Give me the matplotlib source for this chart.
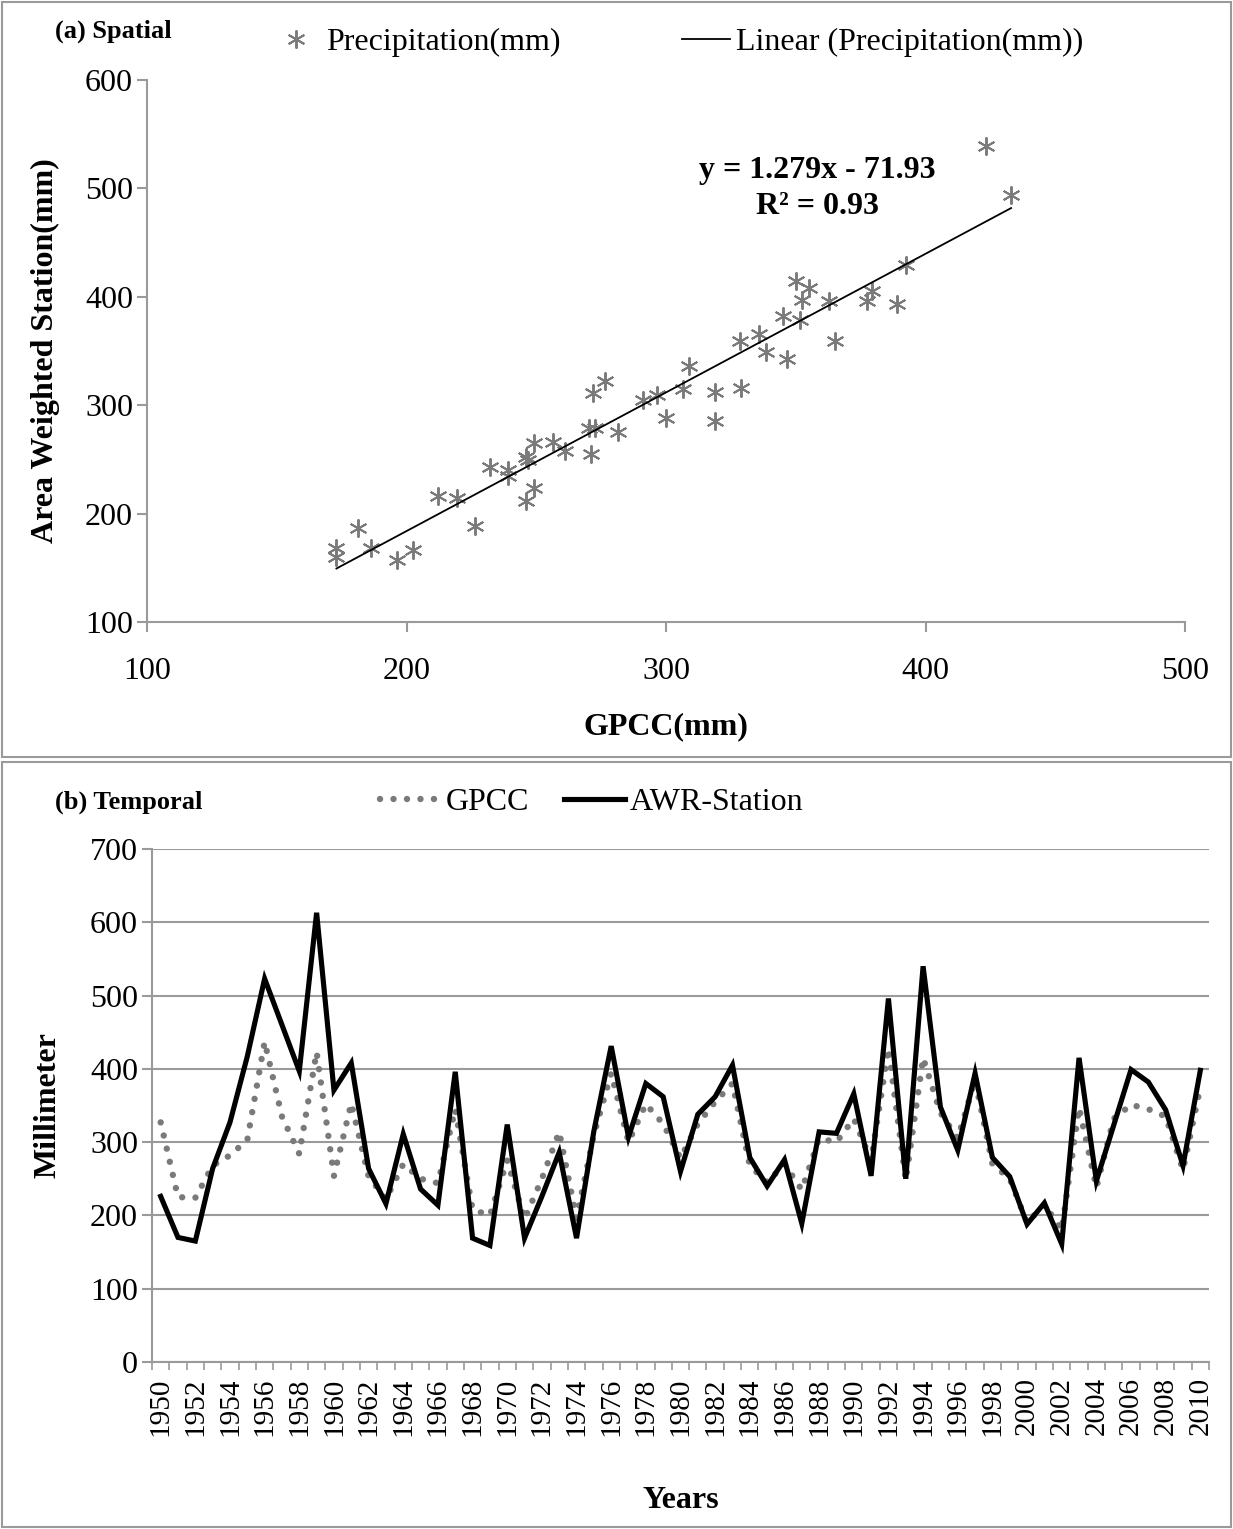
import matplotlib
matplotlib.use("Agg")
import matplotlib.pyplot as plt
import matplotlib.patches as patches
import numpy as np

W, H = 1233, 1529

# (a) spatial: GPCC vs area weighted station precipitation (mm)
gpcc_spatial = [173, 173, 181.5, 186.5, 196.5, 202.5, 212, 219.5, 226.5, 232,
                239, 239, 246, 247, 249, 249, 246, 256.5, 261, 271,
                270.5, 272.5, 272, 276.5, 281.5, 291, 296.5, 300, 306.5, 309,
                319, 319, 329, 328.5, 336, 338.5, 345, 346.5, 350, 355,
                352.5, 351.5, 363, 365, 377.5, 379.5, 389, 392.5, 423.5, 433]
station_spatial = [168, 160, 187, 168, 157, 166, 216, 214, 189, 243,
                   240, 235, 252, 249, 265, 224, 212, 266, 258, 255,
                   279, 279, 311, 322, 275, 305, 309, 288, 315, 336,
                   312, 285, 316, 359, 366, 349, 382, 343, 415, 408,
                   397, 379, 396, 359, 396, 405, 393, 429, 539, 494]
trend_slope = 1.279
trend_intercept = -71.93
r_squared = 0.93

# (b) temporal: annual series 1950-2010
years = list(range(1950, 2011))
gpcc_annual = [327, 225, 224, 268, 282, 303, 437, 335, 284, 423,
               254, 353, 253, 222, 270, 250, 244, 345, 208, 200,
               275, 195, 250, 314, 196, 310, 394, 300, 352, 325,
               278, 325, 355, 380, 268, 245, 270, 235, 305, 300,
               332, 275, 428, 248, 415, 340, 305, 385, 270, 250,
               190, 215, 180, 347, 238, 332, 351, 345, 335, 262,
               375]
awr_annual = [226, 170, 165, 264, 327, 417, 523, 460, 397, 613,
              371, 408, 264, 216, 311, 236, 214, 396, 169, 159,
              324, 169, 226, 286, 169, 315, 431, 307, 380, 362,
              260, 338, 362, 405, 279, 240, 276, 189, 314, 312,
              366, 254, 496, 250, 540, 348, 289, 394, 279, 253,
              188, 217, 161, 415, 247, 323, 399, 382, 344, 268,
              398]

GRAY = "#7a7a7a"
AXIS_GRAY = "#9a9a9a"

plt.rcParams["font.family"] = ["Liberation Serif", "DejaVu Serif"]


def box(left, top, right, bottom):
    return [left / W, 1 - bottom / H, (right - left) / W, (bottom - top) / H]


fig = plt.figure(figsize=(W / 100, H / 100), dpi=100)

# panel frames
for top, bottom in [(2, 757), (762, 1527)]:
    fig.add_artist(patches.Rectangle((2 / W, 1 - bottom / H), (W - 4) / W, (bottom - top) / H,
                                     transform=fig.transFigure, fill=False,
                                     edgecolor=AXIS_GRAY, lw=1.5))

# ---------- (a) Spatial ----------
ax1 = fig.add_axes(box(147, 80, 1185, 622))
ax1.plot(gpcc_spatial, station_spatial, linestyle="none", marker=(6, 2, 0),
         ms=13, mew=1.4, color=GRAY, label="Precipitation(mm)")
xfit = np.array([min(gpcc_spatial), max(gpcc_spatial)])
ax1.plot(xfit, trend_slope * xfit + trend_intercept, color="black", lw=1.3,
         label="Linear (Precipitation(mm))")
ax1.set_xlim(100, 500)
ax1.set_ylim(100, 600)
ax1.set_xticks(range(100, 501, 100))
ax1.set_yticks(range(100, 601, 100))
for s in ["top", "right"]:
    ax1.spines[s].set_visible(False)
for s in ["left", "bottom"]:
    ax1.spines[s].set_color(AXIS_GRAY)
    ax1.spines[s].set_linewidth(1.5)
ax1.tick_params(axis="both", direction="out", length=7, width=1.5, color=AXIS_GRAY,
                labelsize=23)
ax1.tick_params(axis="x", pad=18)
ax1.tick_params(axis="y", pad=3)
ax1.set_xlabel("GPCC(mm)", fontsize=23, fontweight="bold", labelpad=19)
ax1.set_ylabel("Area Weighted Station(mm)", fontsize=23, fontweight="bold", labelpad=18)
ax1.text(358.5, 500, f"y = {trend_slope}x - {abs(trend_intercept)}\nR\u00b2 = {r_squared}",
         ha="center", va="center", fontsize=23, fontweight="bold", linespacing=1.35)

fig.text(55 / W, 1 - 31 / H, "(a) Spatial", fontsize=19, fontweight="bold", va="center")
fig.legend(*ax1.get_legend_handles_labels(), loc="center left",
           bbox_to_anchor=(272 / W, 1 - 42 / H), ncol=2, frameon=False,
           fontsize=23, handlelength=1.5, handletextpad=0.2, columnspacing=3.8,
           borderpad=0, borderaxespad=0)

# ---------- (b) Temporal ----------
ax2 = fig.add_axes(box(152, 849, 1209, 1362))
x = np.arange(len(years))
ax2.plot(x, gpcc_annual, color=GRAY, lw=4.6, linestyle=(0, (0.01, 2.1)),
         dash_capstyle="round", label="GPCC")
ax2.plot(x, awr_annual, color="black", lw=3.7, solid_joinstyle="miter",
         label="AWR-Station")
ax2.set_xlim(-0.5, len(years) - 0.5)
ax2.set_ylim(0, 700)
ax2.set_yticks(range(0, 701, 100))
ax2.yaxis.grid(True, color=AXIS_GRAY, lw=1.5)
ax2.set_axisbelow(True)
ax2.set_xticks(x[::2])
ax2.set_xticklabels([str(y) for y in years[::2]], rotation=90)
ax2.set_xticks(np.arange(-0.5, len(years)), minor=True)
for s in ["top", "right"]:
    ax2.spines[s].set_visible(False)
for s in ["left", "bottom"]:
    ax2.spines[s].set_color(AXIS_GRAY)
    ax2.spines[s].set_linewidth(1.5)
ax2.tick_params(axis="x", which="major", length=0, pad=11, labelsize=21)
ax2.tick_params(axis="x", which="minor", direction="out", length=6, width=1.2,
                color=AXIS_GRAY)
ax2.tick_params(axis="y", direction="out", length=7, width=1.5, color=AXIS_GRAY,
                labelsize=23, pad=3)
ax2.set_xlabel("Years", fontsize=23, fontweight="bold", labelpad=36)
ax2.set_ylabel("Millimeter", fontsize=23, fontweight="bold", labelpad=20)

fig.text(55 / W, 1 - 802 / H, "(b) Temporal", fontsize=19, fontweight="bold", va="center")
fig.legend(*ax2.get_legend_handles_labels(), loc="center left",
           bbox_to_anchor=(380 / W, 1 - 802 / H), ncol=2, frameon=False,
           fontsize=23, handlelength=1.9, handletextpad=0.15, columnspacing=1.1,
           borderpad=0, borderaxespad=0)

fig.savefig("out.png", dpi=100)
